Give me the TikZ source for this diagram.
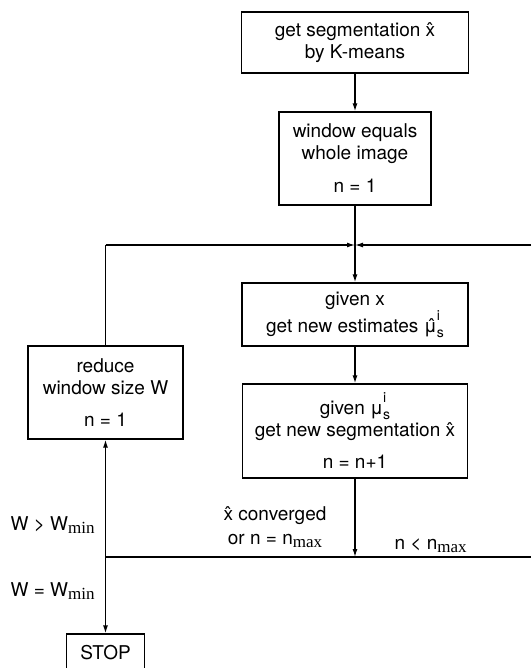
\documentclass[tikz,border=0pt]{standalone}
\usepackage{fontspec}
\setmainfont{TeX Gyre Heros}
\newfontfamily\subfont{Liberation Serif}
\usetikzlibrary{arrows.meta}
% serif subscript such as W_min, n_max
\newcommand\tsub[1]{\raisebox{-3pt}{\subfont\fontsize{17}{17}\selectfont #1}}
% stacked superscript / subscript index
\newcommand\idx[2]{\makebox[0pt][l]{\raisebox{12pt}{\fontsize{14}{14}\selectfont #1}}\raisebox{-5pt}{\fontsize{14}{14}\selectfont #2}}
\begin{document}
\begin{tikzpicture}[x=1pt,y=-1pt,
  every node/.style={font=\fontsize{19}{22}\selectfont},
  stepbox/.style={draw,line width=1.3pt,inner sep=0pt,align=center},
  lbl/.style={inner sep=0pt,anchor=base west},
  flow/.style={-{Latex[length=8pt,width=5pt]}},
  line width=1.3pt]
\fill[white] (0,0) rectangle (531,668);
\useasboundingbox (0,0) rectangle (531,668);

% main column
\node[stepbox,minimum width=227pt,minimum height=61pt] (b1) at (355,42.5)
  {get segmentation \^{x}\\by K-means};
\node[stepbox,minimum width=152pt,minimum height=93pt] (b2) at (355,158.5)
  {window equals\\whole image\\[11pt]n = 1};
\node[stepbox,minimum width=226pt,minimum height=63pt] (b3) at (355,314.5)
  {given x\\get new estimates \^{μ}\idx{i}{s}};
\node[stepbox,minimum width=225pt,minimum height=94pt] (b4) at (355,431)
  {given μ\idx{i}{s}\\get new segmentation \^{x}\\[10pt]n = n+1};

% left column
\node[stepbox,minimum width=155pt,minimum height=93pt] (red) at (105.5,392.5)
  {reduce\\window size W\\[10pt]n = 1};
\node[stepbox,minimum width=78pt,minimum height=37pt] (stop) at (105.5,652.5) {STOP};

% junctions of the loop
\coordinate (J) at (355,245);
\coordinate (L) at (105.5,245);
\coordinate (R) at (531,245);
\coordinate (B) at (355,557);
\coordinate (BL) at (105.5,557);
\coordinate (BR) at (531,557);

\draw[flow] (b1) -- (b2);
\draw (b2.south) -- (J);
\draw[flow] (L) -- (J);
\draw[flow] (R) -- (J);
\draw (red.north) -- (L);
\draw[flow] (J) -- (b3.north);
\draw[flow] (b3) -- (b4);
\draw[flow] (b4.south) -- (B);
\draw (BL) -- (BR);
\draw[flow] (BL) -- (red.south);
\draw[flow] (BL) -- (stop.north);

% branch labels
\node[lbl] (wgt) at (10,530) {W > W\tsub{min}};
\node[lbl] (weq) at (10,596) {W = W\tsub{min}};
\node[inner sep=0pt,anchor=base] (conv1) at (275,520) {\^{x} converged};
\node[inner sep=0pt,anchor=base] (conv2) at (275,544) {or n = n\tsub{max}};
\node[lbl] (nlt) at (394,549) {n < n\tsub{max}};
\end{tikzpicture}
\end{document}
